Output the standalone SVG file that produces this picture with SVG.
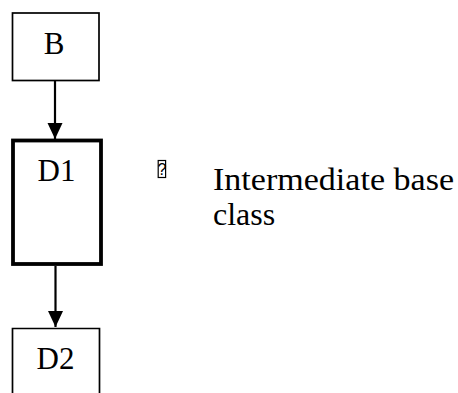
<svg xmlns="http://www.w3.org/2000/svg" width="458" height="393" viewBox="0 0 458 393">
  <style>
    .box { fill: #ffffff; stroke: #000000; stroke-width: 1.7; }
    .box-bold { fill: #ffffff; stroke: #000000; stroke-width: 3.8; }
    .label { font-family: "Liberation Serif", "Times New Roman", serif; font-size: 31px; fill: #000000; }
    .note { font-family: "Liberation Serif", "Times New Roman", serif; font-size: 32px; fill: #000000; }
    .edge { stroke: #000000; stroke-width: 2.2; fill: none; }
  </style>
  <defs>
    <marker id="arrow" markerUnits="userSpaceOnUse" markerWidth="17" markerHeight="16" refX="16" refY="7.5" orient="auto">
      <path d="M0,0 L16,7.5 L0,15 Z" fill="#000000"/>
    </marker>
  </defs>
  <rect width="458" height="393" fill="#ffffff"/>

  <!-- connectors -->
  <g id="connectors">
    <line class="edge" x1="55" y1="81" x2="55" y2="139" marker-end="url(#arrow)"/>
    <line class="edge" x1="55.5" y1="266" x2="55.5" y2="327" marker-end="url(#arrow)"/>
  </g>

  <!-- base class -->
  <g id="node-B">
    <rect class="box" x="12.5" y="13" width="86.5" height="67.5"/>
    <text class="label" x="54" y="54" text-anchor="middle">B</text>
  </g>

  <!-- intermediate class -->
  <g id="node-D1">
    <rect class="box-bold" x="13" y="140.5" width="88" height="123.5"/>
    <text class="label" x="56.5" y="181" text-anchor="middle">D1</text>
  </g>

  <!-- derived class, open at the bottom -->
  <g id="node-D2">
    <path class="box" d="M12.5,400 V328.5 H99.5 V400"/>
    <text class="label" x="55.5" y="369" text-anchor="middle">D2</text>
  </g>

  <!-- annotation beside D1 -->
  <g id="note">
    <rect x="158.2" y="160.5" width="7.4" height="17" fill="none" stroke="#000000" stroke-width="1.2"/>
    <text x="162" y="175" text-anchor="middle" font-family="Liberation Sans, Arial, sans-serif" font-size="16px">?</text>
    <text class="note" x="213" y="190" textLength="241" lengthAdjust="spacingAndGlyphs">Intermediate base</text>
    <text class="note" x="213" y="225">class</text>
  </g>
</svg>
